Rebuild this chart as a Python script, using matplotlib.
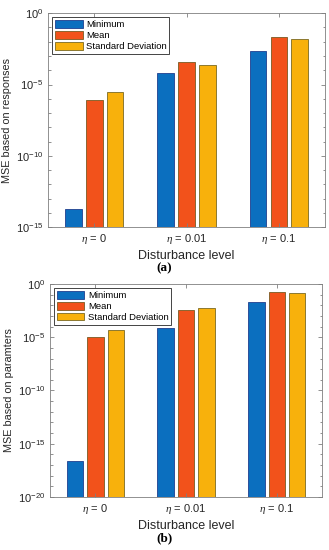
import numpy as np
import matplotlib
matplotlib.use("Agg")
import matplotlib.pyplot as plt
from matplotlib.ticker import LogLocator, NullFormatter, FixedLocator

plt.rcParams['font.family'] = ['Liberation Sans', 'DejaVu Sans']
plt.rcParams['mathtext.fontset'] = 'custom'
plt.rcParams['mathtext.rm'] = 'Liberation Sans'
plt.rcParams['mathtext.it'] = 'Liberation Serif:italic'
plt.rcParams['mathtext.bf'] = 'Liberation Sans:bold'

# data
levels = ['$\\eta$ = 0', '$\\eta$ = 0.01', '$\\eta$ = 0.1']
series = ['Minimum', 'Mean', 'Standard Deviation']
resp_min = [1.8e-14, 6e-5, 2.2e-3]
resp_mean = [8e-7, 3.7e-4, 2.0e-2]
resp_std = [3e-6, 2.5e-4, 1.6e-2]
par_min = [2.2e-17, 8e-5, 1.9e-2]
par_mean = [1.1e-5, 3.6e-3, 1.8e-1]
par_std = [4.4e-5, 5.5e-3, 1.3e-1]

colors = ['#0b6fbf', '#f2521b', '#f8b10c']
edges = ['#1f3f8f', '#7a5a22', '#7a6a22']
axis_col = '#7f7f7f'
text_col = '#262626'


def draw_panel(ax, vals, ymin, ylabel, major_step):
    x = np.arange(1, len(levels) + 1)
    off = [-0.225, 0.0, 0.225]
    for i, v in enumerate(vals):
        ax.bar(x + off[i], v, width=0.18, bottom=ymin, color=colors[i],
               edgecolor=edges[i], linewidth=0.6, label=series[i])
    ax.set_yscale('log')
    ax.set_ylim(ymin, 1)
    ax.set_xlim(0.5, 3.5)
    ax.set_xticks(x)
    ax.set_xticklabels(levels, fontsize=8, color=text_col)
    exps = np.arange(0, int(np.log10(ymin)) - 1, -major_step)
    ax.yaxis.set_major_locator(FixedLocator(10.0 ** exps))
    ax.yaxis.set_minor_locator(LogLocator(base=10, subs=[1.0], numticks=40))
    ax.yaxis.set_minor_formatter(NullFormatter())
    ax.tick_params(axis='both', which='both', direction='in', top=True,
                   right=True, colors=axis_col, labelcolor=text_col,
                   labelsize=8, width=0.6)
    ax.tick_params(which='major', length=3)
    ax.tick_params(which='minor', length=1.8)
    for s in ax.spines.values():
        s.set_color(axis_col)
        s.set_linewidth(0.6)
    ax.set_ylabel(ylabel, fontsize=7.8, color=text_col, labelpad=3)
    ax.set_xlabel('Disturbance level', fontsize=9, color=text_col, labelpad=3)
    leg = ax.legend(loc='upper left', fontsize=6.8, handlelength=2.9,
                    handleheight=0.85, borderpad=0.3, labelspacing=0.2,
                    handletextpad=0.35, borderaxespad=0.45, fancybox=False,
                    framealpha=1)
    leg.get_frame().set_edgecolor(text_col)
    leg.get_frame().set_linewidth(0.6)


fig = plt.figure(figsize=(3.29, 5.5), dpi=100)
ax1 = fig.add_axes([0.146, 0.587, 0.842, 0.389])
ax2 = fig.add_axes([0.152, 0.0964, 0.827, 0.3873])

draw_panel(ax1, [resp_min, resp_mean, resp_std], 1e-15,
           'MSE based on responses', 5)
draw_panel(ax2, [par_min, par_mean, par_std], 1e-20,
           'MSE based on paramters', 5)

fig.text(0.5, 1 - 268 / 550, '(a)', ha='center', va='center',
         fontsize=9.5, fontweight='bold', family='Liberation Serif')
fig.text(0.5, 1 - 538 / 550, '(b)', ha='center', va='center',
         fontsize=9.5, fontweight='bold', family='Liberation Serif')

fig.savefig('out.png', dpi=100)
